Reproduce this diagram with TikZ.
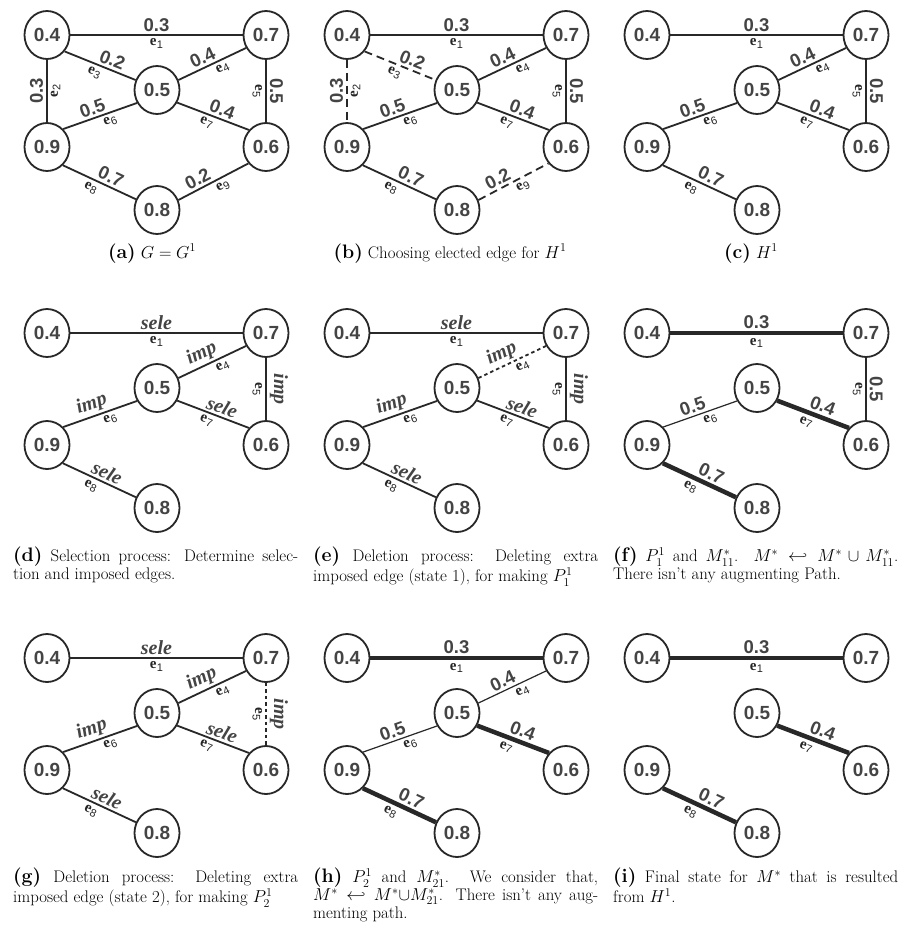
\documentclass[tikz,border=0pt]{standalone}
\usepackage{amsmath,amssymb}
\usepackage{fontspec}
\newfontfamily\lsans{Liberation Sans}
\newfontfamily\lserif{Liberation Serif}
\usetikzlibrary{shapes.geometric}
\definecolor{ecol}{RGB}{40,40,40}
\definecolor{tcol}{RGB}{68,68,68}
\newcommand\nfont{\lsans\bfseries\fontsize{19}{19}\selectfont}
\newcommand\wfont{\lsans\bfseries\fontsize{18.5}{18.5}\selectfont}
\newcommand\slfont{\lserif\bfseries\itshape\fontsize{20}{20}\selectfont}
\newcommand\capfont{\fontsize{16.8}{17.8}\selectfont}
\newcommand\lab[1]{{\fontsize{19.5}{17.8}\selectfont\bfseries(#1)}}
\newcommand\enm[1]{{\lserif\bfseries\fontsize{15}{15}\selectfont e}\kern0.3pt\raisebox{-2.5pt}{\lsans\fontsize{11}{11}\selectfont #1}}
\tikzset{
 vn/.style={ellipse, draw=ecol, line width=1.8pt, minimum width=45pt, minimum height=48pt, inner sep=0pt, font=\nfont, text=tcol},
 ed/.style={draw=ecol, line width=1.8pt},
 thinE/.style={draw=ecol, line width=1.2pt},
 thickE/.style={draw=ecol, line width=4.5pt},
 dashL/.style={dash pattern=on 8pt off 5pt},
 dashS/.style={dash pattern=on 3.5pt off 3pt},
 wl/.style={sloped, above, inner sep=2.5pt, font=\wfont, text=tcol},
 nl/.style={sloped, below, inner sep=3pt, text=black!85},
 sl/.style={sloped, above, inner sep=2pt, font=\slfont, text=tcol},
 vwl/.style={rotate=90, anchor=south, inner sep=3pt, font=\wfont, text=tcol},
 vnl/.style={rotate=90, anchor=north, inner sep=3pt, text=black!85},
 rwl/.style={rotate=-90, anchor=south, inner sep=3pt, font=\wfont, text=tcol},
 rsl/.style={rotate=-90, anchor=south, inner sep=3pt, font=\slfont, text=tcol},
 rnl/.style={rotate=-90, anchor=north, inner sep=3pt, text=black!85},
 captxt/.style={font=\capfont, text=black, inner sep=0pt},
 capbox/.style={captxt, anchor=north west, text width=285pt, align=justify},
}
\newcommand\sixnodes{%
 \node[vn] (n4) at (47,35) {0.4};
 \node[vn] (n7) at (266,35) {0.7};
 \node[vn] (n5) at (157,90) {0.5};
 \node[vn] (n9) at (47,147) {0.9};
 \node[vn] (n6) at (266,147) {0.6};
 \node[vn] (n8) at (157,210) {0.8};
}
\begin{document}
\begin{tikzpicture}[x=1pt,y=-1pt]
\useasboundingbox[fill=white] (0,0) rectangle (901,926);
% (a)
\begin{scope}[name prefix=a-]
\sixnodes
\draw[ed] (n4) -- node[wl]{0.3} node[nl]{\enm1} (n7);
\draw[ed] (n4) -- node[vwl]{0.3} node[vnl]{\enm2} (n9);
\draw[ed] (n4.-43) -- node[wl,pos=.62]{0.2} node[nl,pos=.46]{\enm3} (n5.155);
\draw[ed] (n5.25) -- node[wl,pos=.42]{0.4} node[nl,pos=.6]{\enm4} (n7.-147);
\draw[ed] (n7) -- node[rwl]{0.5} node[rnl]{\enm5} (n6);
\draw[ed] (n9.48) -- node[wl,pos=.44]{0.5} node[nl,pos=.6]{\enm6} (n5.213);
\draw[ed] (n5.-32) -- node[wl,pos=.58]{0.4} node[nl,pos=.45]{\enm7} (n6.135);
\draw[ed] (n9.-49) -- node[wl,pos=.6]{0.7} node[nl,pos=.43]{\enm8} (n8.153);
\draw[ed] (n8.25) -- node[wl,pos=.34]{0.2} node[nl,pos=.58]{\enm9} (n6.223);
\end{scope}
% (b)
\begin{scope}[shift={(300,0)}, name prefix=b-]
\sixnodes
\draw[ed] (n4) -- node[wl]{0.3} node[nl]{\enm1} (n7);
\draw[ed,dashL] (n4) -- node[vwl]{0.3} node[vnl]{\enm2} (n9);
\draw[ed,dashL] (n4.-43) -- node[wl,pos=.62]{0.2} node[nl,pos=.46]{\enm3} (n5.155);
\draw[ed] (n5.25) -- node[wl,pos=.42]{0.4} node[nl,pos=.6]{\enm4} (n7.-147);
\draw[ed] (n7) -- node[rwl]{0.5} node[rnl]{\enm5} (n6);
\draw[ed] (n9.48) -- node[wl,pos=.44]{0.5} node[nl,pos=.6]{\enm6} (n5.213);
\draw[ed] (n5.-32) -- node[wl,pos=.58]{0.4} node[nl,pos=.45]{\enm7} (n6.135);
\draw[ed] (n9.-49) -- node[wl,pos=.6]{0.7} node[nl,pos=.43]{\enm8} (n8.153);
\draw[ed,dashL] (n8.25) -- node[wl,pos=.34]{0.2} node[nl,pos=.58]{\enm9} (n6.223);
\end{scope}
% (c)
\begin{scope}[shift={(600,0)}, name prefix=c-]
\sixnodes
\draw[ed] (n4) -- node[wl]{0.3} node[nl]{\enm1} (n7);
\draw[ed] (n5.25) -- node[wl,pos=.42]{0.4} node[nl,pos=.6]{\enm4} (n7.-147);
\draw[ed] (n7) -- node[rwl]{0.5} node[rnl]{\enm5} (n6);
\draw[ed] (n9.48) -- node[wl,pos=.44]{0.5} node[nl,pos=.6]{\enm6} (n5.213);
\draw[ed] (n5.-32) -- node[wl,pos=.58]{0.4} node[nl,pos=.45]{\enm7} (n6.135);
\draw[ed] (n9.-49) -- node[wl,pos=.6]{0.7} node[nl,pos=.43]{\enm8} (n8.153);
\end{scope}
% (d)
\begin{scope}[shift={(0,298)}, name prefix=d-]
\sixnodes
\draw[ed] (n4) -- node[sl]{sele} node[nl]{\enm1} (n7);
\draw[ed] (n5.25) -- node[sl,pos=.42]{imp} node[nl,pos=.6]{\enm4} (n7.-147);
\draw[ed] (n7) -- node[rsl]{imp} node[rnl]{\enm5} (n6);
\draw[ed] (n9.48) -- node[sl,pos=.44]{imp} node[nl,pos=.6]{\enm6} (n5.213);
\draw[ed] (n5.-32) -- node[sl,pos=.58]{sele} node[nl,pos=.45]{\enm7} (n6.135);
\draw[ed] (n9.-49) -- node[sl,pos=.55]{sele} node[nl,pos=.43]{\enm8} (n8.153);
\end{scope}
% (e)
\begin{scope}[shift={(300,298)}, name prefix=e-]
\sixnodes
\draw[ed] (n4) -- node[sl]{sele} node[nl]{\enm1} (n7);
\draw[ed,dashS] (n5.25) -- node[sl,pos=.42]{imp} node[nl,pos=.6]{\enm4} (n7.-147);
\draw[ed] (n7) -- node[rsl]{imp} node[rnl]{\enm5} (n6);
\draw[ed] (n9.48) -- node[sl,pos=.44]{imp} node[nl,pos=.6]{\enm6} (n5.213);
\draw[ed] (n5.-32) -- node[sl,pos=.58]{sele} node[nl,pos=.45]{\enm7} (n6.135);
\draw[ed] (n9.-49) -- node[sl,pos=.55]{sele} node[nl,pos=.43]{\enm8} (n8.153);
\end{scope}
% (f)
\begin{scope}[shift={(600,298)}, name prefix=f-]
\sixnodes
\draw[thickE] (n4) -- node[wl]{0.3} node[nl]{\enm1} (n7);
\draw[thinE] (n7) -- node[rwl]{0.5} node[rnl]{\enm5} (n6);
\draw[thinE] (n9.48) -- node[wl,pos=.44]{0.5} node[nl,pos=.6]{\enm6} (n5.213);
\draw[thickE] (n5.-32) -- node[wl,pos=.58]{0.4} node[nl,pos=.45]{\enm7} (n6.135);
\draw[thickE] (n9.-49) -- node[wl,pos=.6]{0.7} node[nl,pos=.43]{\enm8} (n8.153);
\end{scope}
% (g)
\begin{scope}[shift={(0,623)}, name prefix=g-]
\sixnodes
\draw[ed] (n4) -- node[sl]{sele} node[nl]{\enm1} (n7);
\draw[ed] (n5.25) -- node[sl,pos=.42]{imp} node[nl,pos=.6]{\enm4} (n7.-147);
\draw[ed,dashS] (n7) -- node[rsl]{imp} node[rnl]{\enm5} (n6);
\draw[ed] (n9.48) -- node[sl,pos=.44]{imp} node[nl,pos=.6]{\enm6} (n5.213);
\draw[ed] (n5.-32) -- node[sl,pos=.58]{sele} node[nl,pos=.45]{\enm7} (n6.135);
\draw[ed] (n9.-49) -- node[sl,pos=.55]{sele} node[nl,pos=.43]{\enm8} (n8.153);
\end{scope}
% (h)
\begin{scope}[shift={(300,623)}, name prefix=h-]
\sixnodes
\draw[thickE] (n4) -- node[wl]{0.3} node[nl]{\enm1} (n7);
\draw[thinE] (n5.25) -- node[wl,pos=.42]{0.4} node[nl,pos=.6]{\enm4} (n7.-147);
\draw[thinE] (n9.48) -- node[wl,pos=.44]{0.5} node[nl,pos=.6]{\enm6} (n5.213);
\draw[thickE] (n5.-32) -- node[wl,pos=.58]{0.4} node[nl,pos=.45]{\enm7} (n6.135);
\draw[thickE] (n9.-49) -- node[wl,pos=.6]{0.7} node[nl,pos=.43]{\enm8} (n8.153);
\end{scope}
% (i)
\begin{scope}[shift={(600,623)}, name prefix=i-]
\sixnodes
\draw[thickE] (n4) -- node[wl]{0.3} node[nl]{\enm1} (n7);
\draw[thickE] (n5.-32) -- node[wl,pos=.58]{0.4} node[nl,pos=.45]{\enm7} (n6.135);
\draw[thickE] (n9.-49) -- node[wl,pos=.6]{0.7} node[nl,pos=.43]{\enm8} (n8.153);
\end{scope}
% captions
\node[captxt, anchor=base] (capa) at (152,258) {\lab{a} $G=G^1$};
\node[captxt, anchor=base] (capb) at (450,258) {\lab{b} Choosing elected edge for $H^1$};
\node[captxt, anchor=base] (capc) at (751,258) {\lab{c} $H^1$};
\node[capbox] (capd) at (13,547) {\lab{d} Selection process: Determine selec-\linebreak tion and imposed edges.};
\node[capbox] (cape) at (313,547) {\lab{e} Deletion process: Deleting extra\linebreak imposed edge (state 1), for making $P_1^1$};
\node[capbox] (capf) at (613,547) {\lab{f} $P_1^1$ and $M_{11}^*$. $M^*\hookleftarrow M^*\cup M_{11}^*$.\linebreak There isn't any augmenting Path.};
\node[capbox] (capg) at (13,868) {\lab{g} Deletion process: Deleting extra\linebreak imposed edge (state 2), for making $P_2^1$};
\node[capbox] (caph) at (313,868) {\lab{h} $P_2^1$ and $M_{21}^*$. We consider that,\linebreak $M^*\hookleftarrow M^*{\cup}M_{21}^*$. There isn't any aug-\linebreak menting path.};
\node[capbox] (capi) at (613,868) {\lab{i} Final state for $M^*$ that is resulted\linebreak from $H^1$.};
\end{tikzpicture}
\end{document}
